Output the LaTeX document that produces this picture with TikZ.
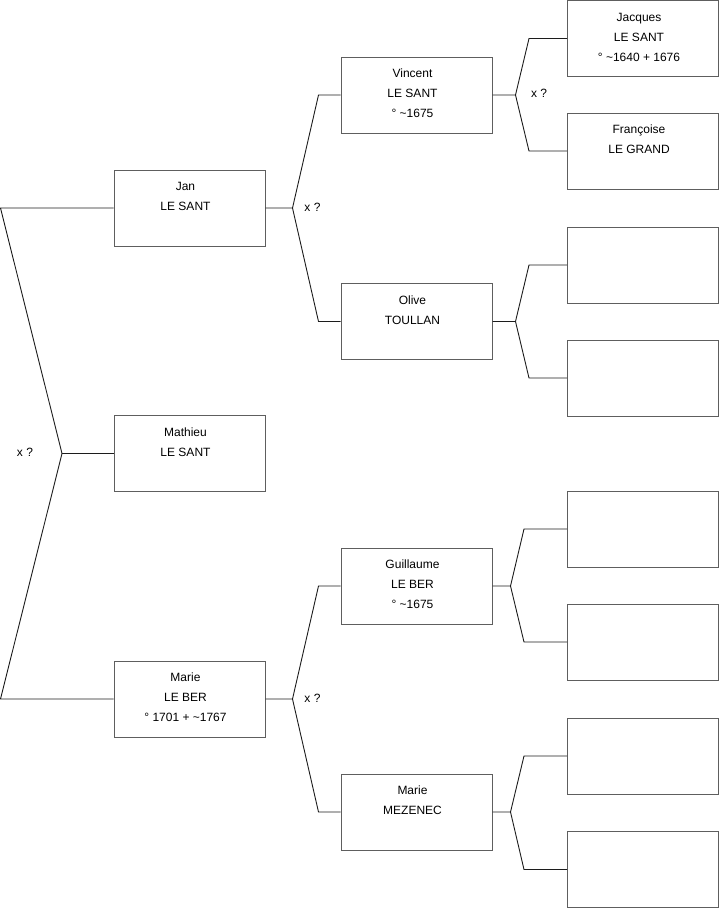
\documentclass[tikz,border=0pt]{standalone}
\usepackage{fontspec}
\setmainfont{Liberation Sans}
\usepackage{xcolor}
\usepackage{tikz}
\usetikzlibrary{calc}
\definecolor{edge}{HTML}{5E5E5E}
\definecolor{wire}{HTML}{1C1C1C}
\newcommand{\ptext}[1]{\parbox[c][63pt][t]{140pt}{\centering\strut #1}\kern8pt}

\begin{document}
\begin{tikzpicture}[x=1pt, y=-1pt,
  person/.style={draw=edge, line width=1pt, minimum width=151pt, minimum height=76pt, inner sep=0pt, font=\fontsize{12}{20}\selectfont},
  link/.style={draw=wire, line width=0.9pt},
  guess/.style={font=\fontsize{12}{14}\selectfont, inner sep=0pt}]
  \useasboundingbox (0,0) rectangle (719,908);
  % generation 1
  \node[person] (jan)     at (189.5,208) {\ptext{Jan\\LE SANT}};
  \node[person] (mathieu) at (189.5,453.5) {\ptext{Mathieu\\LE SANT}};
  \node[person] (marie)   at (189.5,699) {\ptext{Marie\\LE BER\\° 1701 + \textasciitilde1767}};
  % generation 2
  \node[person] (vincent)   at (416.5,95)  {\ptext{Vincent\\LE SANT\\° \textasciitilde1675}};
  \node[person] (olive)     at (416.5,321.5) {\ptext{Olive\\TOULLAN}};
  \node[person] (guillaume) at (416.5,586) {\ptext{Guillaume\\LE BER\\° \textasciitilde1675}};
  \node[person] (mezenec)   at (416.5,812) {\ptext{Marie\\MEZENEC}};
  % generation 3
  \node[person] (jacques)   at (643,38.5) {\ptext{Jacques\\LE SANT\\° \textasciitilde1640 + 1676}};
  \node[person] (francoise) at (643,151)  {\ptext{Françoise\\LE GRAND}};
  \node[person] (e1) at (643,265) {};
  \node[person] (e2) at (643,378) {};
  \node[person] (e3) at (643,529) {};
  \node[person] (e4) at (643,642) {};
  \node[person] (e5) at (643,756) {};
  \node[person] (e6) at (643,869.5) {};
  % unknown marriages
  \node[guess] (xroot)    at (25,452)    {x ?};
  \node[guess] (xjan)     at (312.5,207) {x ?};
  \node[guess] (xmarie)   at (312.5,698) {x ?};
  \node[guess] (xvincent) at (539,93)    {x ?};
  % siblings bracket
  \coordinate (root) at (62,453.5);
  \draw[link] (jan.west) -- ($(jan.west)+(-113,0)$) -- (root) -- ($(marie.west)+(-113,0)$) -- (marie.west);
  \draw[link] (root) -- (mathieu.west);
  % parents forks
  \foreach \kid/\up/\dn/\f/\g in {jan/vincent/olive/27/22, marie/guillaume/mezenec/27/22,
      vincent/jacques/francoise/23/38, olive/e1/e2/23/38,
      guillaume/e3/e4/18/43, mezenec/e5/e6/18/43}{
    \draw[link] (\kid.east) -- ++(\f,0) coordinate (fk) -- ($(\up.west)+(-\g,0)$) -- (\up.west);
    \draw[link] (fk) -- ($(\dn.west)+(-\g,0)$) -- (\dn.west);
  }
\end{tikzpicture}
\end{document}
